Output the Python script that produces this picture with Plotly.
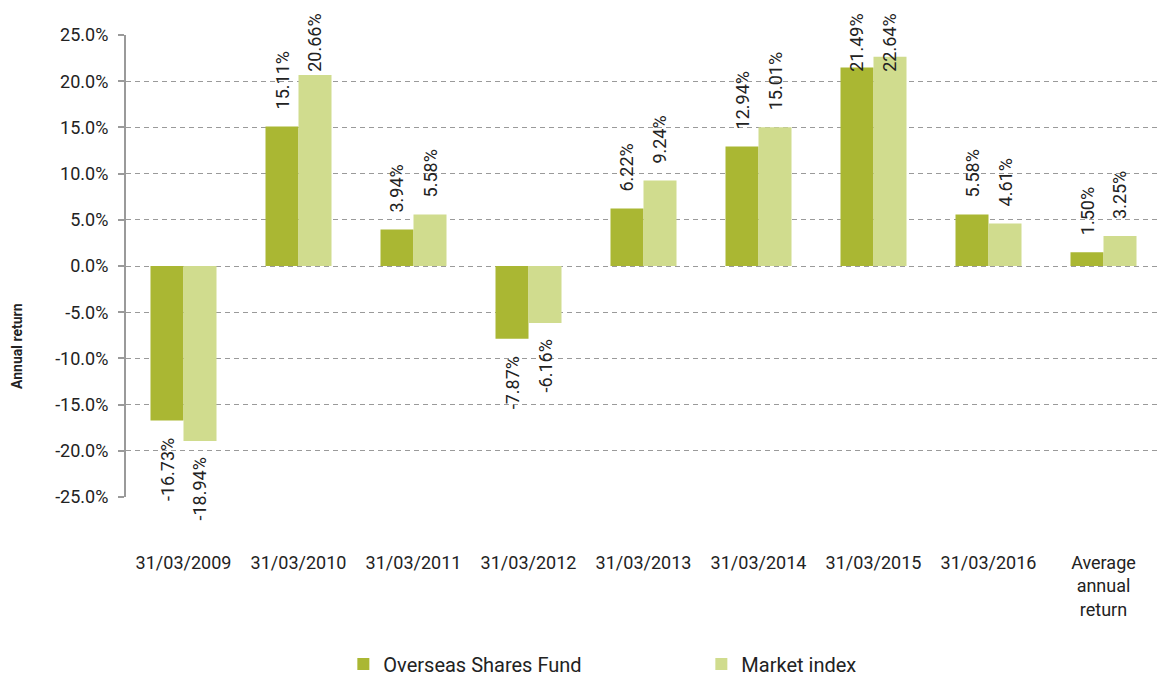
import plotly.graph_objects as go
import numpy as np

categories = ["31/03/2009", "31/03/2010", "31/03/2011", "31/03/2012", "31/03/2013",
              "31/03/2014", "31/03/2015", "31/03/2016", "Average<br>annual<br>return"]
fund = [-16.73, 15.11, 3.94, -7.87, 6.22, 12.94, 21.49, 5.58, 1.50]
market = [-18.94, 20.66, 5.58, -6.16, 9.24, 15.01, 22.64, 4.61, 3.25]
y_ticks = [-25, -20, -15, -10, -5, 0, 5, 10, 15, 20, 25]

DARK = "#AAB733"
LIGHT = "#D0DC8E"
TXT = "#222222"
GRAY = "#9A9A9A"
FONT = "Roboto"

W, H = 1162, 678
ML, MR, MT, MB = 126, 1, 35, 181
BARGAP = 0.426
Y_MIN, Y_MAX = -25, 25
plot_h = H - MT - MB
plot_w = W - ML - MR
px_per_unit = plot_h / (Y_MAX - Y_MIN)
bar_w = plot_w / len(categories) * (1 - BARGAP) / 2
LABEL_GAP = 15          # px between bar end and its label
LABEL_CAP = 20.8        # labels are kept inside the chart area (Excel style)

series = [("Overseas Shares Fund", fund, DARK, -1), ("Market index", market, LIGHT, 1)]

fig = go.Figure()
annotations = []
for name, vals, col, side in series:
    fig.add_trace(go.Bar(
        x=categories, y=vals, name=name, marker=dict(color=col, line=dict(width=0)),
        hoverinfo="x+y",
    ))
    for c, v in zip(categories, vals):
        if v >= 0:
            if v + LABEL_GAP / px_per_unit > LABEL_CAP:
                yv, ys = LABEL_CAP, 0
            else:
                yv, ys = v, LABEL_GAP
            ya = "bottom"
        else:
            yv, ys, ya = v, -LABEL_GAP, "top"
        annotations.append(dict(
            x=c, y=yv, xref="x", yref="y", text=f"{v:.2f}%", showarrow=False,
            textangle=-90, xanchor="center", yanchor=ya,
            xshift=side * bar_w / 2, yshift=ys,
            font=dict(family=FONT, size=18, color=TXT),
        ))

# y-axis title (centred on the whole chart area, as in the original)
annotations.append(dict(
    text="<b>Annual return</b>", xref="paper", yref="paper",
    x=(17 - ML) / plot_w, y=(H - MB - 346) / plot_h, showarrow=False,
    textangle=-90, xanchor="center", yanchor="middle",
    font=dict(family=FONT, size=14, color=TXT),
))

n = len(categories)
fig.update_layout(
    width=W, height=H,
    margin=dict(l=ML, r=MR, t=MT, b=MB, autoexpand=False),
    paper_bgcolor="white", plot_bgcolor="white",
    barmode="group", bargap=BARGAP, bargroupgap=0,
    font=dict(family=FONT, color=TXT),
    showlegend=True,
    annotations=annotations,
    legend=dict(orientation="h", x=0.21, y=(H - MB - 664) / plot_h,
                xanchor="left", yanchor="middle",
                font=dict(family=FONT, size=20, color=TXT), entrywidth=313,
                traceorder="normal"),
    xaxis=dict(type="category", showline=False, ticks="", showgrid=False, automargin=False,
               tickfont=dict(family=FONT, size=18, color=TXT), ticklabelstandoff=53),
    xaxis2=dict(overlaying="x", anchor="free", position=0.5, type="linear",
                range=[-0.5, n - 0.5], tickvals=list(np.arange(0.5, n - 1, 1.0)),
                ticks="outside", ticklen=5, tickcolor=GRAY, tickwidth=2,
                showline=True, linecolor=GRAY, linewidth=2, automargin=False,
                showgrid=False, showticklabels=False, zeroline=False),
    yaxis=dict(range=[Y_MIN, Y_MAX], tickvals=y_ticks,
               ticktext=[f"{v:.1f}%" for v in y_ticks], automargin=False,
               showgrid=True, gridcolor=GRAY, griddash="5px,4px", gridwidth=1,
               zeroline=False, showline=True, linecolor=GRAY, linewidth=2,
               ticks="outside", ticklen=6, tickcolor=GRAY, tickwidth=2,
               ticklabelstandoff=6,
               tickfont=dict(family=FONT, size=18, color=TXT)),
)

fig.write_html("out.html")
